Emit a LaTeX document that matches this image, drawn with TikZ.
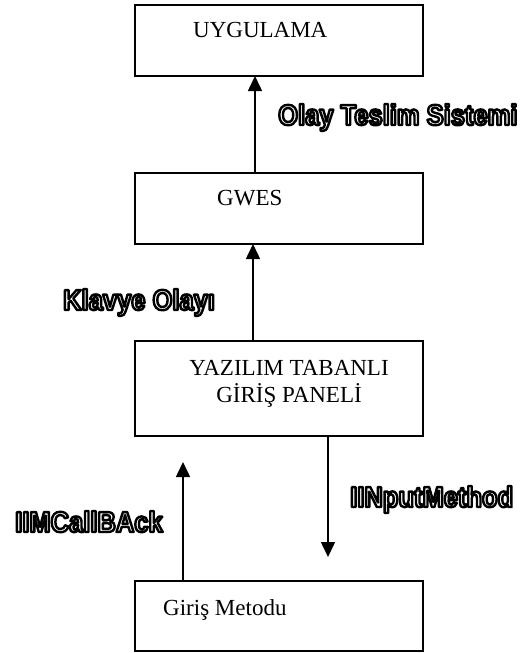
\documentclass[tikz,border=0pt]{standalone}
\usepackage{fontspec}
\setmainfont{Liberation Serif}
\newfontfamily\lblfamily{Liberation Sans}[FakeStretch=0.88]
\usetikzlibrary{arrows.meta}
\tikzset{
  box/.style={draw, line width=1.5pt, inner sep=0pt, outer sep=0pt, anchor=north west,
              minimum width=288pt},
  boxtext/.style={font=\fontsize{23}{27}\selectfont, inner sep=0pt, anchor=base west},
  lbl/.style={font=\lblfamily\bfseries\fontsize{29}{32}\selectfont, inner sep=0pt, anchor=base west},
  conn/.style={line width=1.5pt, -{Triangle[length=15pt,width=14pt]}},
}
\newcommand{\outl}[1]{\textcolor{white}{\special{pdf:code 0 G 2 Tr 2.4 w 1 j}#1\special{pdf:code 0 Tr}}}
\begin{document}
\begin{tikzpicture}[x=1pt,y=-1pt]
\useasboundingbox (0,0) rectangle (532,653);
% boxes
\node[box, minimum height=71pt] (uyg) at (135,5) {};
\node[box, minimum height=71pt] (gwes) at (135,173) {};
\node[box, minimum height=95pt] (yaz) at (135,341) {};
\node[box, minimum height=70pt] (gir) at (135,581) {};
% box texts
\node[boxtext] (uygt) at (193,37) {UYGULAMA};
\node[boxtext] (gwest) at (217,205) {GWES};
\node[font=\fontsize{23}{27}\selectfont, align=center, inner sep=0pt, anchor=base] (yazt) at (289,402) {YAZILIM TABANLI\\GİRİŞ PANELİ};
\node[boxtext] (girt) at (163,615) {Giriş Metodu};
% free ends
\coordinate (upend) at (183,462);
\coordinate (downend) at (328,557);
% connectors
\draw[conn] (gwes.north -| 255,0) -- (uyg.south -| 255,0);
\draw[conn] (yaz.north -| 253,0) -- (gwes.south -| 253,0);
\draw[conn] (gir.north -| upend) -- (upend);
\draw[conn] (yaz.south -| downend) -- (downend);
% labels
\node[lbl] (l1) at (278,125) {\outl{Olay Teslim Sistemi}};
\node[lbl] (l2) at (63,310) {\outl{Klavye Olayı}};
\node[lbl] (l3) at (350,507) {\outl{IINputMethod}};
\node[lbl] (l4) at (15,532) {\outl{IIMCallBAck}};
\end{tikzpicture}
\end{document}
